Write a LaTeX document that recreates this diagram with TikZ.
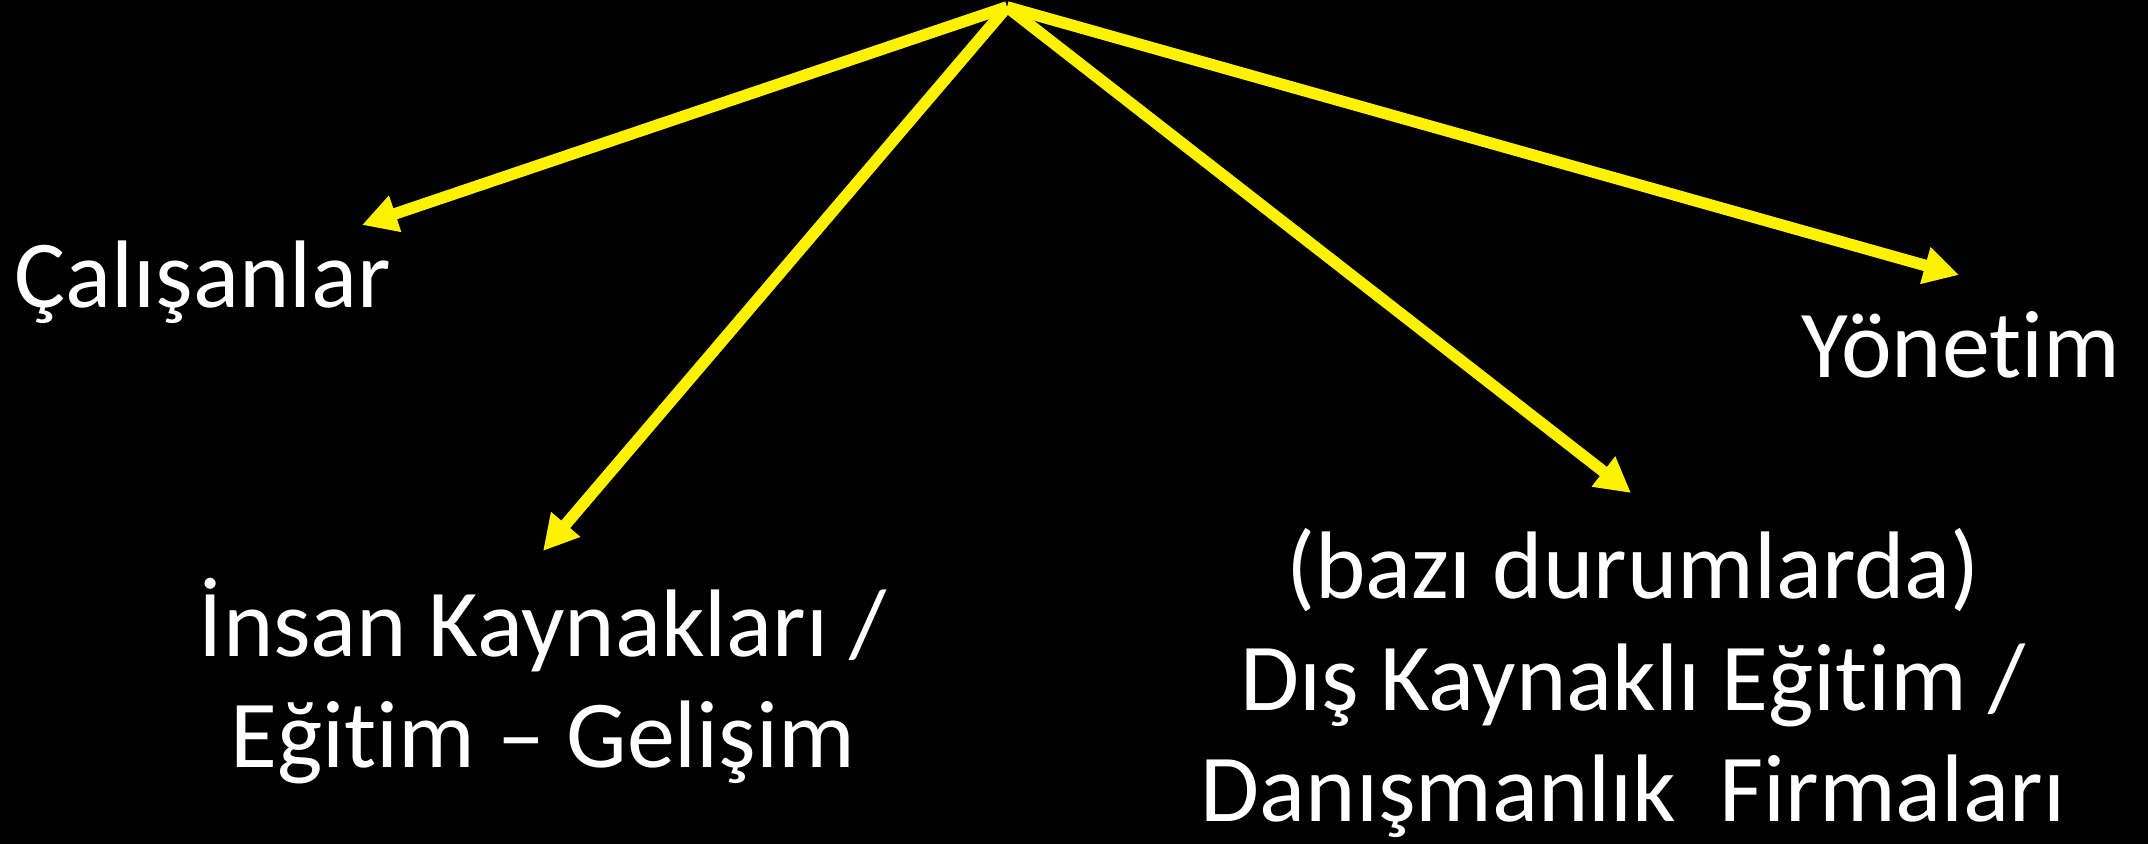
\documentclass[tikz,border=0pt]{standalone}
\usepackage{fontspec}
\setmainfont{Carlito}[Ligatures=NoCommon]
\usepackage{tikz}
\usetikzlibrary{arrows.meta}

\begin{document}
\begin{tikzpicture}[lbl/.style={text=white, align=center, inner sep=0pt, font=\fontsize{27.3}{31.7}\selectfont},
	arr/.style={draw=yellow, line width=3.3pt, -{Triangle[length=3.5mm, width=3.6mm]}}]
	\fill[black] (0,0) rectangle (21.48,8.44);
	\coordinate (top) at (10.07,8.37);
	\coordinate (calTip) at (3.62,6.19);
	\coordinate (insTip) at (5.43,2.93);
	\coordinate (disTip) at (16.31,3.51);
	\coordinate (yonTip) at (19.59,5.69);
	\node[lbl, anchor=base west] (cal) at (0.14,5.36) {Çalışanlar};
	\node[lbl, anchor=base east] (yon) at (21.21,4.66) {Yönetim};
	\node[lbl] (ins) at (5.43,1.63) {İnsan Kaynakları /\\Eğitim – Gelişim};
	\node[lbl] (dis) at (16.33,1.61) {(bazı durumlarda)\\Dış Kaynaklı Eğitim /\\Danışmanlık~ Firmaları};
	\draw[arr] (top) -- (calTip);
	\draw[arr] (top) -- (insTip);
	\draw[arr] (top) -- (disTip);
	\draw[arr] (top) -- (yonTip);
\end{tikzpicture}
\end{document}
